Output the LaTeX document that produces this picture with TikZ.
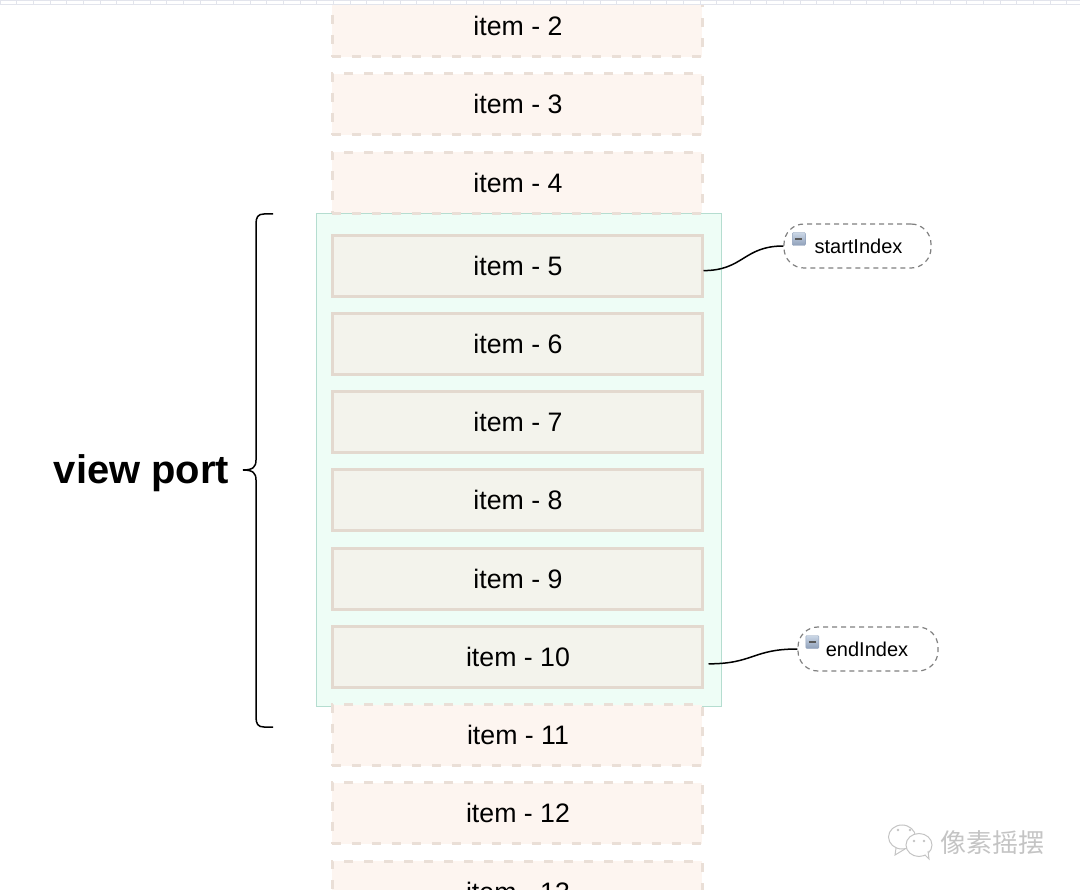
\documentclass[tikz,border=0pt]{standalone}
\usepackage{xcolor}
\usepackage{fontspec}
\usepackage{tikz}
\usetikzlibrary{shapes,positioning,calc}
\setmainfont{Liberation Sans}
\newfontfamily\cjk{Noto Sans CJK SC}

\definecolor{itemfill}{HTML}{FDF5F0}
\definecolor{itemline}{HTML}{EADFD7}
\definecolor{shownfill}{HTML}{F3F3EC}
\definecolor{shownline}{HTML}{E3D9CF}
\definecolor{portfill}{HTML}{EEFDF6}
\definecolor{portline}{HTML}{B5DDD0}
\definecolor{rulerline}{HTML}{E2E4EC}
\definecolor{markcolor}{HTML}{C4C4C4}
\definecolor{icontop}{HTML}{CBD7E6}
\definecolor{iconbottom}{HTML}{8FA0BA}

\begin{document}
\begin{tikzpicture}[
    x=1pt, y=1pt,
    node distance=14.25pt,
    itembox/.style={rectangle, draw=itemline, fill=itemfill, line width=3pt, dash pattern=on 9pt off 11pt, minimum width=370pt, minimum height=61pt, font=\fontsize{26.7}{30}\selectfont, execute at begin node=\hspace{2pt}},
    shownbox/.style={itembox, draw=shownline, fill=shownfill, solid},
    indexpill/.style={rectangle, rounded corners=20pt, draw=black!50, line width=1.2pt, dash pattern=on 5pt off 4pt, minimum height=44pt, font=\fontsize{20}{24}\selectfont},
    minusicon/.style={rectangle, rounded corners=1pt, draw=iconbottom, top color=icontop, bottom color=iconbottom, minimum size=13pt, inner sep=0pt},
    link/.style={line width=1.5pt}
]

\clip (0,0) rectangle (1080,-890);

% view port
\node[rectangle, draw=portline, fill=portfill, line width=1pt, minimum width=405pt, minimum height=492pt] (viewport) at (518.5,-460) {};

% items
\node[shownbox] (item5) at (517,-265.6) {item - 5};
\node[itembox, above=19pt of item5] (item4) {item - 4};
\node[itembox, above=of item4] (item3) {item - 3};
\node[itembox, above=of item3] (item2) {item - 2};
\node[shownbox, below=of item5] (item6) {item - 6};
\node[shownbox, below=of item6] (item7) {item - 7};
\node[shownbox, below=of item7] (item8) {item - 8};
\node[shownbox, below=of item8] (item9) {item - 9};
\node[shownbox, below=of item9] (item10) {item - 10};
\node[itembox, below=of item10] (item11) {item - 11};
\node[itembox, below=of item11] (item12) {item - 12};
\node[itembox, below=of item12] (item13) {item - 13};

% ruler along the top edge
\fill[white] (0,0) rectangle (1080,-4);
\draw[rulerline, line width=0.8pt, xstep=16.67pt, ystep=4pt] (0,-4) grid (1080,0);

% brace and its label
\draw[line width=1.5pt] (273,-214) -- (264,-214) .. controls (258,-214) and (256,-217) .. (256,-224) -- (256,-460)
    .. controls (256,-467) and (253,-470) .. (243,-470) .. controls (253,-470) and (256,-473) .. (256,-480) -- (256,-717)
    .. controls (256,-724) and (258,-727) .. (264,-727) -- (273,-727);
\node[font=\fontsize{39.9}{44}\selectfont\bfseries] (portlabel) at (141.5,-473) {view port};

% index markers
\node[indexpill, minimum width=147pt, text depth=0pt] (startindex) at (857.5,-246) {\hspace{2pt}startIndex};
\node[minusicon] (starticon) at ([xshift=15.5pt,yshift=7pt]startindex.west) {};
\draw[black!65, line width=1.5pt] ([xshift=-3.5pt]starticon.center) -- ([xshift=3.5pt]starticon.center);

\node[indexpill, minimum width=140pt, text depth=0pt] (endindex) at (868,-649) {\hspace{-2pt}endIndex};
\node[minusicon] (endicon) at ([xshift=15pt,yshift=7pt]endindex.west) {};
\draw[black!65, line width=1.5pt] ([xshift=-3.5pt]endicon.center) -- ([xshift=3.5pt]endicon.center);

% connectors
\draw[link] ([yshift=-5pt]item5.east) .. controls +(40,0) and +(-40,0) .. (startindex.west);
\draw[link] ([xshift=5pt,yshift=-7pt]item10.east) .. controls +(45,0) and +(-45,0) .. (endindex.west);

% bubbles and name at the corner
\draw[markcolor, line width=1pt, fill=white] (902,-837) ellipse (13.5pt and 12pt);
\draw[markcolor, line width=1pt] (896,-848) -- (895,-855) -- (905,-849);
\draw[markcolor, line width=1pt, fill=white] (919,-845) ellipse (13pt and 11.5pt);
\draw[markcolor, line width=1pt, fill=white] (925,-855) -- (929,-859) -- (928,-851);
\fill[markcolor] (898,-830) circle (1.3pt) (910,-830) circle (1.3pt) (914,-841) circle (1.3pt) (924,-841) circle (1.3pt);
\node[font=\cjk\fontsize{26}{30}\selectfont, text=markcolor, inner sep=0pt] (marktext) at (992.5,-843) {像素摇摆};

\end{tikzpicture}
\end{document}
